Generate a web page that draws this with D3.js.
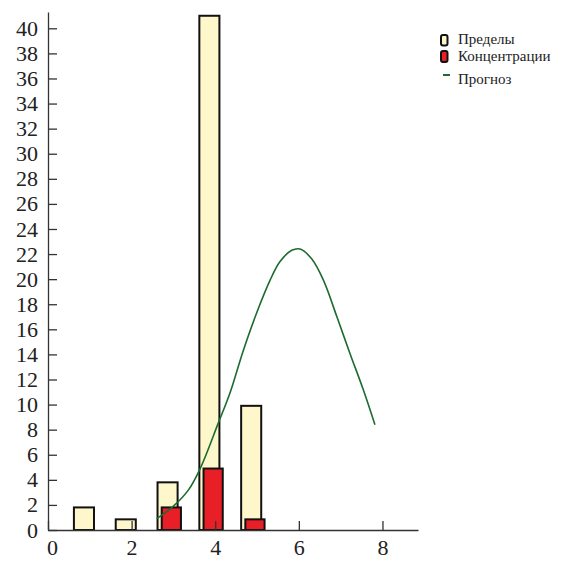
<!DOCTYPE html>
<html>
<head>
<meta charset="utf-8">
<script src="https://cdn.jsdelivr.net/npm/d3@7"></script>
<style>
    body { margin: 0; background: #fff; }
    .axis path, .axis line { stroke: #333; stroke-width: 1.3; }
    .axis text { font-family: "Liberation Serif", "DejaVu Serif", serif; font-size: 22px; fill: #222; }
    .legend text { font-family: "Liberation Serif", "DejaVu Serif", serif; font-size: 15px; fill: #222; }
</style>
</head>
<body>
<div id="chart"></div>
<script>
// Bar categories (x positions)
const limitX = [1, 2, 3, 4, 5];
// "Пределы" bar heights
const limitValues = [1.8, 0.85, 3.8, 41, 9.9];
// "Концентрации" bar positions and heights
const concX = [3, 4, 5];
const concValues = [1.8, 4.9, 0.85];
// "Прогноз" curve points
const forecastX = [2.6, 3.0, 3.36, 3.64, 4.07, 4.35, 4.67, 4.99, 5.31, 5.55, 5.83, 6.03, 6.31, 6.59, 6.91, 7.22, 7.54, 7.82];
const forecastY = [0.9, 1.9, 3.2, 4.9, 8.5, 10.9, 14.3, 17.3, 19.9, 21.4, 22.3, 22.4, 21.6, 19.9, 17.0, 14.1, 11.2, 8.4];
// Tick values
const xTicks = [0, 2, 4, 6, 8];
const yTicks = d3.range(0, 41, 2);
const legendLabels = ["Пределы", "Концентрации", "Прогноз"];

drawChart();

function drawChart() {
    const width_raw = 564,
        height_raw = 562;

    const margin = {top: 12, right: 146, bottom: 32, left: 48};

    let width = width_raw - margin.left - margin.right,
        height = height_raw - margin.top - margin.bottom;

    let svg = d3.select("#chart")
        .append("svg")
        .attr("width", width_raw)
        .attr("height", height_raw)
        .append("g")
        .attr("transform", `translate(${margin.left}, ${margin.top})`);

    // Scales
    let xScale = d3.scaleLinear()
        .domain([0, 8.85])
        .range([0, width]);

    let yScale = d3.scaleLinear()
        .domain([0, 41.3])
        .range([height, 0]);

    // Limit bars (cream)
    svg.selectAll(".limit-bar")
        .data(limitX.map((x, i) => ({x: x, v: limitValues[i]})))
        .enter()
        .append("rect")
        .attr("class", "limit-bar")
        .attr("x", d => xScale(d.x - 0.38))
        .attr("y", d => yScale(d.v))
        .attr("width", xScale(0.48) - xScale(0))
        .attr("height", d => height - yScale(d.v))
        .attr("fill", "#fff7cc")
        .attr("stroke", "#111")
        .attr("stroke-width", 2);

    // Concentration bars (red)
    svg.selectAll(".conc-bar")
        .data(concX.map((x, i) => ({x: x, v: concValues[i]})))
        .enter()
        .append("rect")
        .attr("class", "conc-bar")
        .attr("x", d => xScale(d.x - 0.28))
        .attr("y", d => yScale(d.v))
        .attr("width", xScale(0.46) - xScale(0))
        .attr("height", d => height - yScale(d.v))
        .attr("fill", "#e81f27")
        .attr("stroke", "#111")
        .attr("stroke-width", 2);

    // Forecast curve
    let line = d3.line()
        .x(d => xScale(d[0]))
        .y(d => yScale(d[1]))
        .curve(d3.curveCatmullRom.alpha(0.5));

    svg.append("path")
        .datum(forecastX.map((x, i) => [x, forecastY[i]]))
        .attr("fill", "none")
        .attr("stroke", "#1c6b30")
        .attr("stroke-width", 1.6)
        .attr("d", line);

    // Axes with inward ticks
    let xAxis = d3.axisBottom(xScale)
        .tickValues(xTicks)
        .tickSizeInner(-9)
        .tickSizeOuter(0)
        .tickPadding(9);

    let yAxis = d3.axisLeft(yScale)
        .tickValues(yTicks)
        .tickSizeInner(-9)
        .tickSizeOuter(0)
        .tickPadding(10);

    let xGroup = svg.append("g")
        .attr("class", "axis x-axis")
        .attr("transform", `translate(0, ${height})`)
        .call(xAxis);

    // the "0" label sits a little right of its tick in the original
    xGroup.selectAll(".tick text")
        .filter(d => d === 0)
        .attr("dx", 4);

    svg.append("g")
        .attr("class", "axis y-axis")
        .call(yAxis);

    // Legend
    let legend = d3.select("svg").append("g")
        .attr("class", "legend")
        .attr("transform", "translate(440, 0)");

    legend.append("rect")
        .attr("x", 1).attr("y", 35).attr("width", 6.5).attr("height", 10.5).attr("rx", 2)
        .attr("fill", "#fff7cc").attr("stroke", "#111").attr("stroke-width", 2);

    legend.append("rect")
        .attr("x", 1).attr("y", 51).attr("width", 6.5).attr("height", 11).attr("rx", 2)
        .attr("fill", "#e81f27").attr("stroke", "#111").attr("stroke-width", 2);

    legend.append("line")
        .attr("x1", 3).attr("x2", 10).attr("y1", 75).attr("y2", 75)
        .attr("stroke", "#1c6b30").attr("stroke-width", 2);

    legend.selectAll("text")
        .data(legendLabels)
        .enter()
        .append("text")
        .attr("x", 18)
        .attr("y", (d, i) => [44, 61, 84][i])
        .text(d => d);
}
</script>
</body>
</html>
